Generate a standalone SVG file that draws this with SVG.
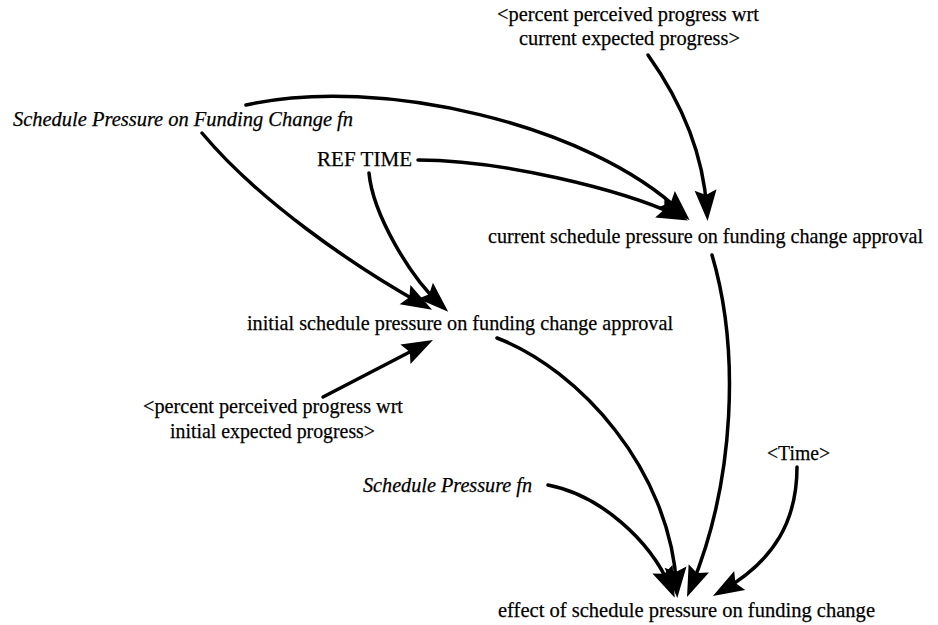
<svg xmlns="http://www.w3.org/2000/svg" width="938" height="625" viewBox="0 0 938 625">
  <style>
    text { font-family: "Liberation Serif", "Times New Roman", serif; font-size: 22px; fill: #000; stroke: #000; stroke-width: 0.25; }
    .fn { font-style: italic; font-size: 21px; }
    .link { fill: none; stroke: #000; stroke-width: 3.5; stroke-linecap: round; marker-end: url(#head); }
  </style>
  <defs>
    <marker id="head" markerUnits="userSpaceOnUse" markerWidth="31" markerHeight="22" refX="19" refY="11" orient="auto" overflow="visible">
      <path d="M0,0 L31,11 L0,22 L5,11 z" fill="#000"/>
    </marker>
  </defs>
  <rect width="938" height="625" fill="#fff"/>

  <g id="links">
    <!-- Schedule Pressure on Funding Change fn -> initial -->
    <path class="link" d="M202,133 C258,200 352,265 421.6,304"/>
    <!-- REF TIME -> initial -->
    <path class="link" d="M369,173 C373,215 410.6,277 439.4,303.7"/>
    <!-- Schedule Pressure on Funding Change fn -> current -->
    <path class="link" d="M246,105 C380,75 590,125 681,212"/>
    <!-- REF TIME -> current -->
    <path class="link" d="M418,160 C500,160 620,189 677,215.4"/>
    <!-- perceived vs current expected -> current -->
    <path class="link" d="M648,55 C680,100 703,150 706.8,209"/>
    <!-- current -> effect -->
    <path class="link" d="M712,255 C740,350 735,480 691.6,586"/>
    <!-- initial -> effect -->
    <path class="link" d="M497,338 C580,370 670,470 676.6,586"/>
    <!-- Schedule Pressure fn -> effect -->
    <path class="link" d="M548,485 C600,495 650,540 670,586.6"/>
    <!-- Time -> effect -->
    <path class="link" d="M797,467 C797,520 775,560 723.3,590"/>
    <!-- perceived vs initial expected -> initial -->
    <path class="link" d="M323,397 L422.3,345.5"/>
  </g>

  <g id="schedule-pressure-on-funding-change-fn">
    <text class="fn" x="13" y="126" textLength="340" lengthAdjust="spacingAndGlyphs">Schedule Pressure on Funding Change fn</text>
  </g>
  <g id="ref-time">
    <text x="317" y="166" textLength="95" lengthAdjust="spacingAndGlyphs">REF TIME</text>
  </g>
  <g id="perceived-current">
    <text x="497" y="21" textLength="262" lengthAdjust="spacingAndGlyphs">&lt;percent perceived progress wrt</text>
    <text x="519" y="45" textLength="221" lengthAdjust="spacingAndGlyphs">current expected progress&gt;</text>
  </g>
  <g id="current-schedule-pressure">
    <text x="488" y="243" textLength="435" lengthAdjust="spacingAndGlyphs">current schedule pressure on funding change approval</text>
  </g>
  <g id="initial-schedule-pressure">
    <text x="247" y="330" textLength="426" lengthAdjust="spacingAndGlyphs">initial schedule pressure on funding change approval</text>
  </g>
  <g id="perceived-initial">
    <text x="143" y="413" textLength="260" lengthAdjust="spacingAndGlyphs">&lt;percent perceived progress wrt</text>
    <text x="170" y="438" textLength="205" lengthAdjust="spacingAndGlyphs">initial expected progress&gt;</text>
  </g>
  <g id="schedule-pressure-fn">
    <text class="fn" x="363" y="492" textLength="169" lengthAdjust="spacingAndGlyphs">Schedule Pressure fn</text>
  </g>
  <g id="time">
    <text x="767" y="460" textLength="63" lengthAdjust="spacingAndGlyphs">&lt;Time&gt;</text>
  </g>
  <g id="effect-of-schedule-pressure">
    <text x="498" y="617" textLength="377" lengthAdjust="spacingAndGlyphs">effect of schedule pressure on funding change</text>
  </g>
</svg>
